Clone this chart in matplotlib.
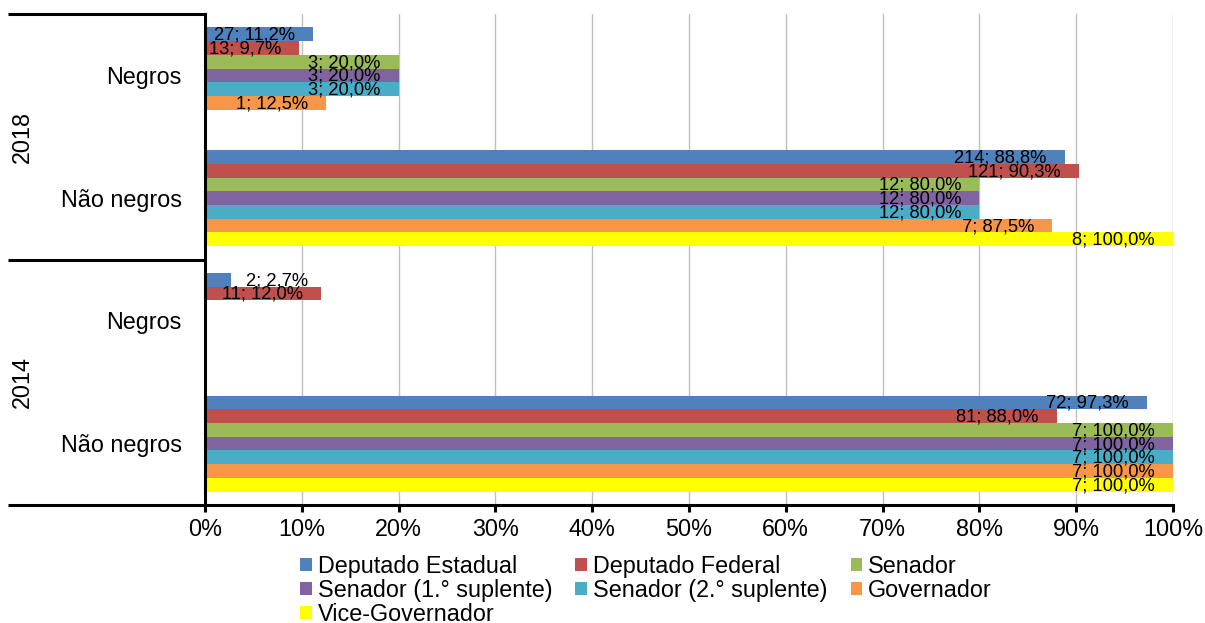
import matplotlib
matplotlib.use("Agg")
import matplotlib.pyplot as plt
import numpy as np
from matplotlib.patches import Patch

plt.rcParams["font.family"] = ["Liberation Sans", "DejaVu Sans"]

# ----------------------------------------------------------------------
# data (top to bottom)
years = ["2018", "2014"]
categories = ["Negros", "Não negros", "Negros", "Não negros"]
series = ["Deputado Estadual", "Deputado Federal", "Senador",
          "Senador (1.° suplente)", "Senador (2.° suplente)",
          "Governador", "Vice-Governador"]
colors = ["#4F81BD", "#C0504D", "#9BBB59", "#8064A2",
          "#4BACC6", "#F79646", "#FFFF00"]

# percentages per series, one value per category (nan = no bar)
pct = {
    "Deputado Estadual":      [11.2, 88.8, 2.7, 97.3],
    "Deputado Federal":       [9.7, 90.3, 12.0, 88.0],
    "Senador":                [20.0, 80.0, np.nan, 100.0],
    "Senador (1.° suplente)": [20.0, 80.0, np.nan, 100.0],
    "Senador (2.° suplente)": [20.0, 80.0, np.nan, 100.0],
    "Governador":             [12.5, 87.5, np.nan, 100.0],
    "Vice-Governador":        [np.nan, 100.0, np.nan, 100.0],
}
counts = {
    "Deputado Estadual":      [27, 214, 2, 72],
    "Deputado Federal":       [13, 121, 11, 81],
    "Senador":                [3, 12, None, 7],
    "Senador (1.° suplente)": [3, 12, None, 7],
    "Senador (2.° suplente)": [3, 12, None, 7],
    "Governador":             [1, 7, None, 7],
    "Vice-Governador":        [None, 8, None, 7],
}

# ----------------------------------------------------------------------
W, H = 1205, 623
fig = plt.figure(figsize=(W / 100, H / 100), dpi=100)
ax = fig.add_axes([205 / W, 1 - 505 / H, 968 / W, 491 / H])

FS = 16.8
LFS = 13.2
bar_h = 0.1117
start = 0.109
ypos = np.arange(len(categories))

for j, name in enumerate(series):
    vals = np.array(pct[name], dtype=float)
    y = ypos + start + (j + 0.5) * bar_h
    ax.barh(y, np.nan_to_num(vals), height=bar_h, color=colors[j],
            edgecolor="none", zorder=2)
    for i, (v, n) in enumerate(zip(vals, counts[name])):
        if n is None:
            continue
        txt = f"{n}; {v:.1f}%".replace(".", ",")
        dx = -18
        if v < 5:  # too short: label pushed outside
            dx = 77
        ax.annotate(txt, xy=(v, y[i]), xytext=(dx, -1),
                    textcoords="offset pixels", ha="right", va="center",
                    fontsize=LFS, color="black", zorder=3)

ax.set_ylim(len(categories), 0)
ax.set_xlim(0, 100)
ax.set_yticks([])
ax.set_xticks(range(0, 101, 10))
ax.set_xticklabels([f"{v}%" for v in range(0, 101, 10)], fontsize=FS)
ax.tick_params(axis="x", length=5, width=2.2, pad=4.5, color="black")
ax.xaxis.grid(True, color="#BFBFBF", lw=1)
ax.set_axisbelow(True)

for s in ["top", "right"]:
    ax.spines[s].set_visible(False)
for s in ["left", "bottom"]:
    ax.spines[s].set_linewidth(2.2)
    ax.spines[s].set_color("black")

# hierarchical category axis on the left
tr = ax.get_yaxis_transform()
x_left = (8 - 205) / 968
for yl in [0, 2, 4]:
    ax.plot([x_left, 0], [yl, yl], color="black", lw=2.2,
            transform=tr, clip_on=False, solid_capstyle="butt")

for i, cat in enumerate(categories):
    ax.annotate(cat, xy=(-23 / 968, i + 0.5), xycoords=tr,
                xytext=(0, -2), textcoords="offset pixels",
                ha="right", va="center", fontsize=FS)
for k, yr in enumerate(years):
    ax.annotate(yr, xy=(-185 / 968, 2 * k + 1), xycoords=tr,
                xytext=(2, 0), textcoords="offset pixels",
                ha="center", va="center", rotation=90, fontsize=FS)

# legend, filled row by row
handles = [Patch(facecolor=c, edgecolor="none") for c in colors]
order = [0, 3, 6, 1, 4, 2, 5]
fig.legend([handles[k] for k in order], [series[k] for k in order],
           loc="upper left", bbox_to_anchor=(300 / W, 1 - 555 / H),
           ncol=3, frameon=False, fontsize=FS, borderpad=0,
           borderaxespad=0, handlelength=0.5, handleheight=0.5,
           handletextpad=0.25, columnspacing=1.0, labelspacing=0.04)

fig.savefig("out.png", dpi=100)
